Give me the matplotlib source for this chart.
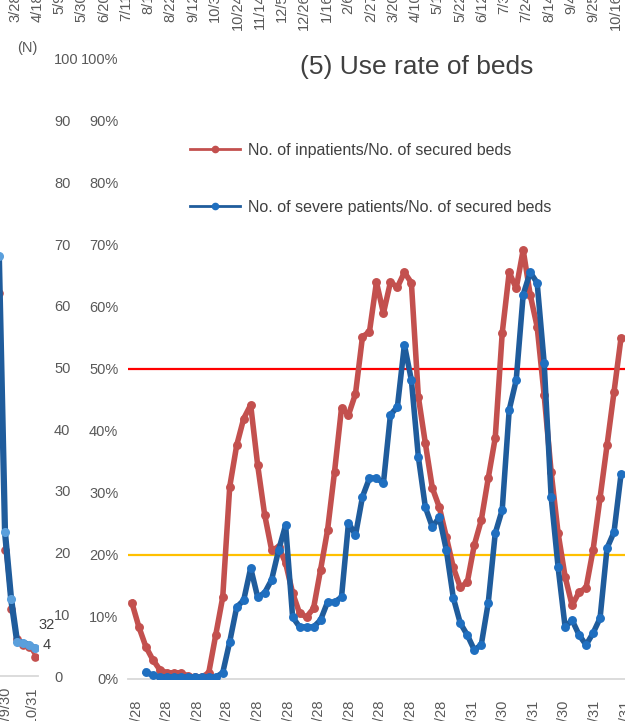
import matplotlib
matplotlib.use("Agg")
import matplotlib.pyplot as plt
import matplotlib.dates as mdates
from matplotlib.lines import Line2D
from matplotlib.ticker import PercentFormatter
from matplotlib import font_manager
import numpy as np
import pandas as pd

# ---------------- data ----------------
# main panel: weekly use rate of beds (%), starting 2020-04-24
main_start = "2020-04-24"
inpatient_rate = [12.3, 8.4, 5.2, 3.1, 1.5, 1.0, 1.0, 1.0, 0.5, 0.3, 0.3, 1.0, 7.1, 13.2,
                  31.0, 37.7, 42.0, 44.2, 34.5, 26.5, 20.8, 21.3, 18.7, 13.9, 10.6, 10.0,
                  11.4, 17.6, 24.0, 33.4, 43.7, 42.6, 46.0, 55.2, 56.0, 64.0, 59.0, 64.0,
                  63.2, 65.6, 63.9, 45.5, 38.0, 30.8, 27.7, 22.9, 18.0, 14.8, 15.6, 21.6,
                  25.6, 32.4, 38.9, 55.8, 65.6, 63.0, 69.2, 62.0, 56.8, 45.8, 33.4, 23.5,
                  16.5, 11.9, 14.0, 14.7, 20.8, 29.2, 37.7, 46.3, 55.0]
severe_rate = [np.nan, np.nan, 1.1, 0.6, 0.3, 0.3, 0.3, 0.3, 0.3, 0.3, 0.3, 0.3, 0.3, 1.0,
               6.0, 11.6, 12.7, 17.9, 13.2, 13.9, 16.0, 20.8, 24.8, 10.0, 8.4, 8.4,
               8.4, 9.5, 12.4, 12.4, 13.2, 25.2, 23.2, 29.4, 32.4, 32.4, 31.6, 42.6,
               43.9, 53.9, 48.2, 35.8, 27.7, 24.5, 26.1, 20.8, 13.1, 9.0, 7.1, 4.7,
               5.5, 12.3, 23.5, 27.3, 43.4, 48.2, 62.0, 65.6, 63.9, 51.0, 29.4, 18.0,
               8.4, 9.5, 7.1, 5.5, 7.4, 9.8, 21.1, 23.7, 33.0]
threshold_red = 50
threshold_yellow = 20
main_tick_dates = ["2020-04-28", "2020-05-28", "2020-06-28", "2020-07-28", "2020-08-28",
                   "2020-09-28", "2020-10-28", "2020-11-28", "2020-12-28", "2021-01-28",
                   "2021-02-28", "2021-03-31", "2021-04-30", "2021-05-31", "2021-06-30",
                   "2021-07-31", "2021-08-31"]
series_labels = ["No. of inpatients/No. of secured beds",
                 "No. of severe patients/No. of secured beds"]
title_text = "(5) Use rate of beds"

# left (cut-off) panel: number of patients (N)
left_dates = ["2021-09-16", "2021-09-23", "2021-09-30", "2021-10-07", "2021-10-14",
              "2021-10-21", "2021-10-28", "2021-11-04"]
left_red = [90, 62, 20.4, 10.9, 6.0, 5.0, 4.7, 3.1]
left_blue = [95, 68, 23.3, 12.5, 5.5, 5.4, 5.0, 4.5]
left_tick_dates = ["2021-05-31", "2021-06-30", "2021-07-31", "2021-08-31", "2021-09-30",
                   "2021-10-31"]
left_point_labels = ["32", "4"]

# top (cut-off) panel tick labels
top_tick_dates = pd.date_range("2020-03-28", periods=28, freq="21D")

# ---------------- styling ----------------
W, H, DPI = 625, 721, 100
RED = "#c3504e"
BLUE = "#1f5c9c"
BLUE_M = "#1f6fc0"
LBLUE = "#5a9fdc"
GRAY_TXT = "#595959"
DARK_TXT = "#404040"
AX_GRAY = "#d9d9d9"

names = {f.name for f in font_manager.fontManager.ttflist}
NARROW = "Liberation Sans Narrow" if "Liberation Sans Narrow" in names else "Liberation Sans"
TICK_FS = 12 if NARROW == "Liberation Sans Narrow" else 10.5
plt.rcParams["font.family"] = [NARROW, "DejaVu Sans"]

fig = plt.figure(figsize=(W / DPI, H / DPI), dpi=DPI)
fig.patch.set_facecolor("white")


def fx(px):
    return px / W


def fy(py):
    return 1 - py / H


def label_fmt(d):
    d = pd.Timestamp(d)
    return f"{d.year}/{d.month}/{d.day}"


# ---------------- main panel ----------------
ax = fig.add_axes([fx(128), fy(679), fx(625) - fx(128), fy(59) - fy(679)])
dates = pd.date_range(main_start, periods=len(inpatient_rate), freq="7D")
ax.plot(dates, inpatient_rate, color=RED, lw=4.0, marker="o", ms=5.4,
        mfc=RED, mec=RED, zorder=3, solid_joinstyle="round")
ax.plot(dates, severe_rate, color=BLUE, lw=4.0, marker="o", ms=5.4,
        mfc=BLUE_M, mec=BLUE_M, zorder=4, solid_joinstyle="round")
ax.axhline(threshold_red, color="#ff0000", lw=1.6, zorder=2)
ax.axhline(threshold_yellow, color="#ffc000", lw=1.6, zorder=2)

ax.set_ylim(0, 100)
ax.set_yticks(range(0, 101, 10))
ax.yaxis.set_major_formatter(PercentFormatter(xmax=100, decimals=0))
x0 = mdates.date2num(pd.Timestamp("2020-04-28"))
ppd = 1.013
ax.set_xlim(x0 - 8 / ppd, x0 + 489 / ppd)
ax.set_xticks(mdates.date2num(pd.to_datetime(main_tick_dates)))
ax.set_xticklabels([label_fmt(d) for d in main_tick_dates], rotation=90)
for s in ["top", "right", "left"]:
    ax.spines[s].set_visible(False)
ax.spines["bottom"].set_color(AX_GRAY)
ax.spines["bottom"].set_linewidth(1.3)
ax.tick_params(axis="x", length=0, pad=15, labelsize=TICK_FS, labelcolor=GRAY_TXT)
ax.tick_params(axis="y", length=0, pad=7, labelsize=TICK_FS, labelcolor=GRAY_TXT)
ax.patch.set_alpha(0)

fig.text(fx(300), fy(67), title_text, fontsize=19, family="Liberation Sans",
         color=DARK_TXT, ha="left", va="center")

handles = [Line2D([], [], color=RED, lw=2.0, marker="o", ms=4.5),
           Line2D([], [], color=BLUE, lw=2.0, marker="o", ms=4.5, mfc=BLUE_M, mec=BLUE_M)]
leg = fig.legend(handles, series_labels, loc="upper left",
                 bbox_to_anchor=(fx(190), fy(143)), bbox_transform=fig.transFigure,
                 frameon=False, borderpad=0, borderaxespad=0, handlelength=3.1,
                 handletextpad=0.5, labelspacing=2.6,
                 prop={"family": "Liberation Sans", "size": 11.5})
for t in leg.get_texts():
    t.set_color(DARK_TXT)

# ---------------- left cut-off panel ----------------
axl = fig.add_axes([fx(-120), fy(676), fx(38) - fx(-120), fy(59) - fy(676)])
ld = pd.to_datetime(left_dates)
axl.plot(ld, left_red, color=RED, lw=2.0, marker="o", ms=5.2, mfc=RED, mec=RED, zorder=3)
axl.plot(ld, left_blue, color=BLUE, lw=4.5, marker="o", ms=5.5, mfc=LBLUE, mec=LBLUE, zorder=4)
axl.set_ylim(0, 100)
axl.set_yticks(range(0, 101, 10))
axl.yaxis.tick_right()
x9 = mdates.date2num(pd.Timestamp("2021-09-30"))
lppd = 0.87
axl.set_xlim(x9 - 125 / lppd, x9 + 33 / lppd)
axl.set_xticks(mdates.date2num(pd.to_datetime(left_tick_dates)))
axl.set_xticklabels([label_fmt(d) for d in left_tick_dates], rotation=90)
for s in ["top", "right", "left"]:
    axl.spines[s].set_visible(False)
axl.spines["bottom"].set_color(AX_GRAY)
axl.spines["bottom"].set_linewidth(1.3)
axl.tick_params(axis="x", length=0, pad=8, labelsize=TICK_FS, labelcolor=GRAY_TXT)
axl.tick_params(axis="y", length=0, pad=11.5, labelsize=TICK_FS, labelcolor=GRAY_TXT)
axl.patch.set_alpha(0)
axl.annotate(left_point_labels[0], (ld[-1], left_blue[-1]), xytext=(2, 16.5),
             textcoords="offset points", ha="left", va="center",
             fontsize=TICK_FS, color=DARK_TXT, annotation_clip=False)
axl.annotate(left_point_labels[1], (ld[-1], left_blue[-1]), xytext=(5, 2),
             textcoords="offset points", ha="left", va="center",
             fontsize=TICK_FS, color=DARK_TXT, annotation_clip=False)
fig.text(fx(17), fy(48), "(N)", fontsize=TICK_FS, color=GRAY_TXT, ha="left", va="center")

# ---------------- top cut-off panel (tick labels only) ----------------
axt = fig.add_axes([0, fy(-6.5), 1, 0.05])
t0 = mdates.date2num(top_tick_dates[0])
tppd = 1.0595
axt.set_xlim(t0 - 15 / tppd, t0 + 610 / tppd)
axt.set_xticks(mdates.date2num(top_tick_dates))
axt.set_xticklabels([f"{d.month}/{d.day}" for d in top_tick_dates], rotation=90)
axt.set_yticks([])
for s in axt.spines.values():
    s.set_visible(False)
axt.tick_params(axis="x", length=0, pad=0, labelsize=TICK_FS, labelcolor=GRAY_TXT)
axt.patch.set_alpha(0)

fig.savefig("out.png", dpi=DPI, facecolor="white")
